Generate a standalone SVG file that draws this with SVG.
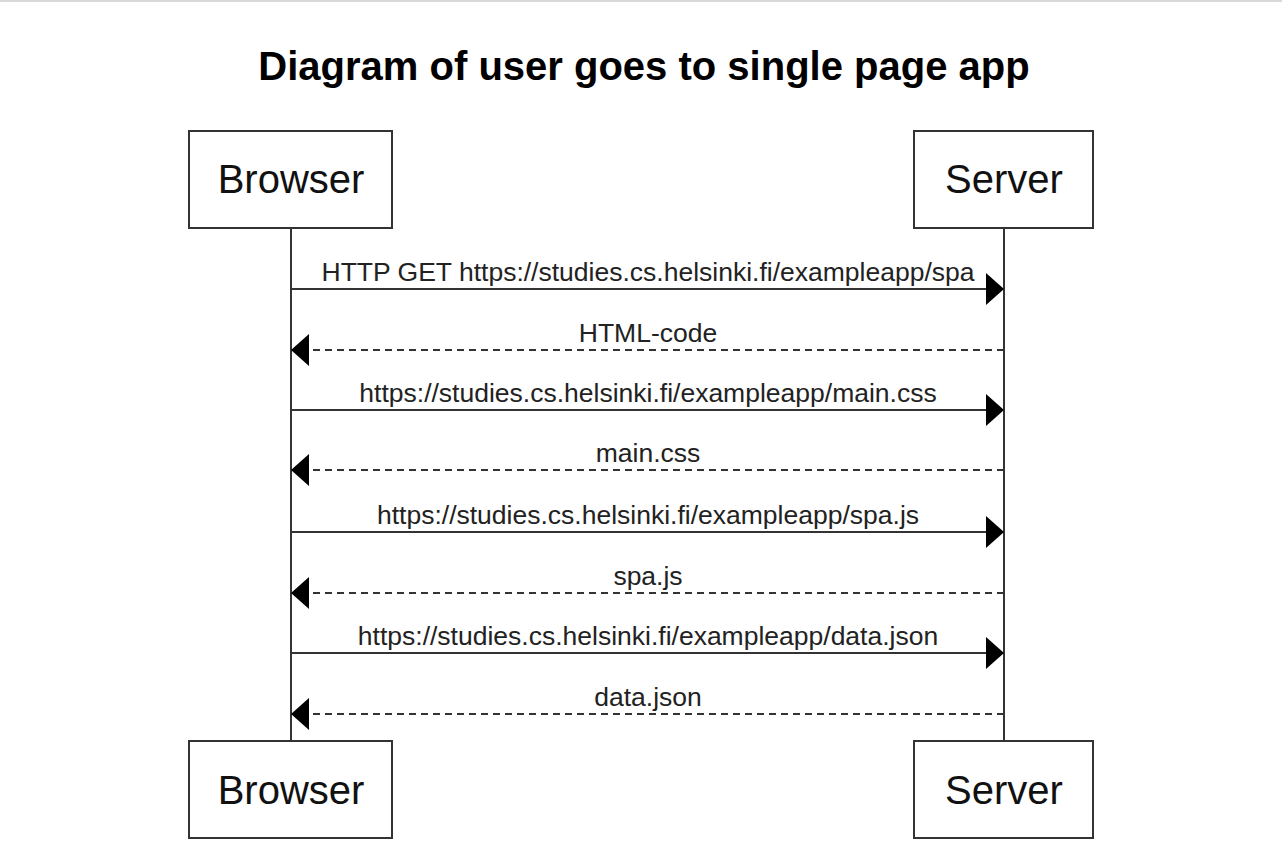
<svg xmlns="http://www.w3.org/2000/svg" width="1282" height="856" viewBox="0 0 1282 856">
<style>
.actor rect{fill:#fff;stroke:#333;stroke-width:2}
.actor text{font-family:"Liberation Sans",Arial,sans-serif;font-size:40px;fill:#111;text-anchor:middle}
.life{stroke:#333;stroke-width:2}
.msg{stroke:#333;stroke-width:2;fill:none;marker-end:url(#arr)}
.dash{stroke-dasharray:7 5}
.lbl{font-family:"Liberation Sans",Arial,sans-serif;font-size:26.5px;fill:#222;text-anchor:middle}
.title{font-family:"Liberation Sans",Arial,sans-serif;font-size:40px;font-weight:bold;fill:#000;text-anchor:middle}
</style>
<defs>
<marker id="arr" markerUnits="userSpaceOnUse" markerWidth="18" markerHeight="32" refX="18" refY="16" orient="auto">
<path d="M0,0 L18,16 L0,32 z" fill="#000"/>
</marker>
</defs>
<rect x="0" y="0" width="1282" height="2" fill="#d9d9d9"/>
<text class="title" x="644" y="80">Diagram of user goes to single page app</text>
<g id="lifelines">
<line class="life" x1="291" y1="229" x2="291" y2="741"/>
<line class="life" x1="1004" y1="229" x2="1004" y2="741"/>
</g>
<g id="browser-top" class="actor"><rect x="189" y="131" width="203" height="97"/><text x="291" y="193">Browser</text></g>
<g id="server-top" class="actor"><rect x="914" y="131" width="179" height="97"/><text x="1004" y="193">Server</text></g>
<g id="browser-bottom" class="actor"><rect x="189" y="741" width="203" height="97"/><text x="291" y="804">Browser</text></g>
<g id="server-bottom" class="actor"><rect x="914" y="741" width="179" height="97"/><text x="1004" y="804">Server</text></g>
<g id="connectors">
<line class="msg" x1="291" y1="289" x2="1004" y2="289"/>
<line class="msg dash" x1="1004" y1="350" x2="291" y2="350"/>
<line class="msg" x1="291" y1="410" x2="1004" y2="410"/>
<line class="msg dash" x1="1004" y1="470" x2="291" y2="470"/>
<line class="msg" x1="291" y1="532" x2="1004" y2="532"/>
<line class="msg dash" x1="1004" y1="593" x2="291" y2="593"/>
<line class="msg" x1="291" y1="653" x2="1004" y2="653"/>
<line class="msg dash" x1="1004" y1="714" x2="291" y2="714"/>
</g>
<g id="labels">
<text class="lbl" x="648" y="281">HTTP GET https://studies.cs.helsinki.fi/exampleapp/spa</text>
<text class="lbl" x="648" y="342">HTML-code</text>
<text class="lbl" x="648" y="402">https://studies.cs.helsinki.fi/exampleapp/main.css</text>
<text class="lbl" x="648" y="462">main.css</text>
<text class="lbl" x="648" y="524">https://studies.cs.helsinki.fi/exampleapp/spa.js</text>
<text class="lbl" x="648" y="585">spa.js</text>
<text class="lbl" x="648" y="645">https://studies.cs.helsinki.fi/exampleapp/data.json</text>
<text class="lbl" x="648" y="706">data.json</text>
</g>
</svg>
